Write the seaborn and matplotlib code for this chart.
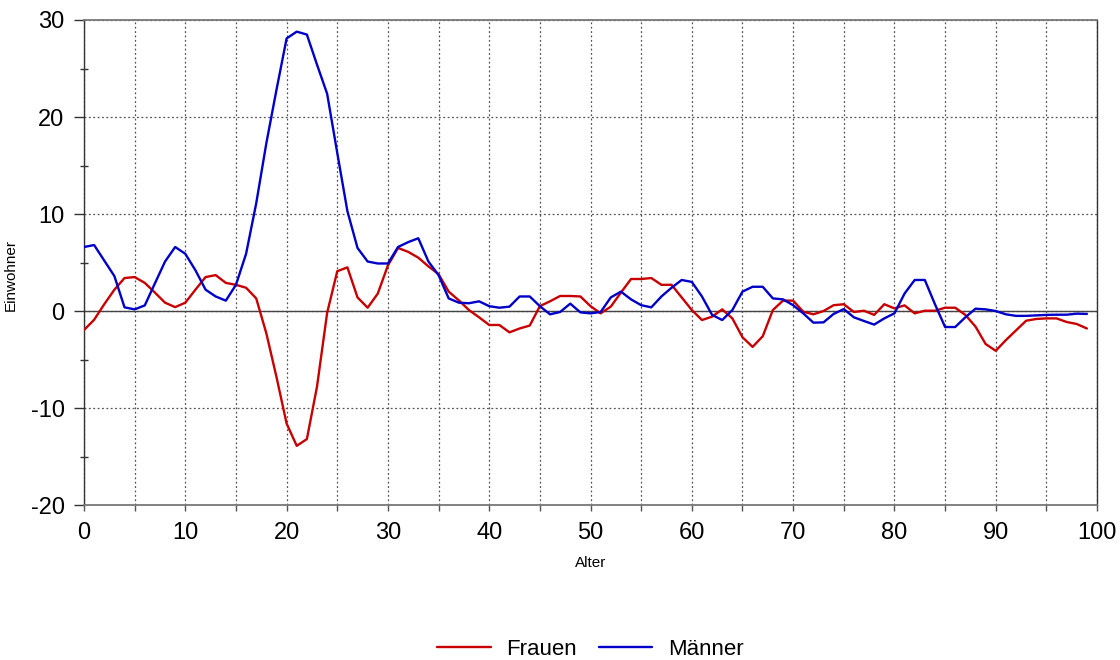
import numpy as np
import pandas as pd
import matplotlib
matplotlib.use("Agg")
import matplotlib.pyplot as plt
from matplotlib.ticker import MultipleLocator
import seaborn as sns

# Ages 0..99
alter = list(range(100))

frauen = [
    -1.96, -0.9, 0.7, 2.2, 3.4, 3.5, 2.9, 1.9, 0.86, 0.4,
    0.86, 2.2, 3.5, 3.7, 2.9, 2.7, 2.4, 1.3, -2.3, -6.8,
    -11.6, -13.9, -13.2, -7.8, -0.2, 4.1, 4.5, 1.4, 0.34, 1.8,
    4.7, 6.5, 6.1, 5.5, 4.6, 3.8, 2.0, 1.1, 0.1, -0.65,
    -1.44, -1.44, -2.2, -1.8, -1.5, 0.5, 1.0, 1.55, 1.55, 1.5,
    0.5, -0.24, 0.45, 1.9, 3.3, 3.3, 3.4, 2.7, 2.7, 1.4,
    0.1, -0.93, -0.58, 0.17, -0.76, -2.7, -3.7, -2.6, 0.1, 1.07,
    1.07, -0.07, -0.34, 0.0, 0.6, 0.7, -0.1, 0.03, -0.4, 0.7,
    0.27, 0.58, -0.24, 0.03, 0.03, 0.34, 0.34, -0.4, -1.6, -3.4,
    -4.1, -3.0, -2.0, -1.0, -0.82, -0.76, -0.76, -1.13, -1.34, -1.8,
]

maenner = [
    6.6, 6.8, 5.2, 3.6, 0.38, 0.17, 0.58, 2.85, 5.1, 6.6,
    5.9, 4.2, 2.2, 1.5, 1.07, 2.7, 5.9, 11.1, 17.3, 22.8,
    28.1, 28.8, 28.5, 25.4, 22.4, 16.3, 10.3, 6.5, 5.1, 4.9,
    4.9, 6.6, 7.1, 7.5, 5.1, 3.7, 1.3, 0.86, 0.8, 1.0,
    0.5, 0.34, 0.45, 1.5, 1.5, 0.5, -0.34, -0.1, 0.76, -0.14,
    -0.24, -0.1, 1.4, 2.0, 1.2, 0.6, 0.38, 1.5, 2.4, 3.2,
    3.0, 1.5, -0.4, -0.93, 0.1, 2.0, 2.5, 2.5, 1.3, 1.2,
    0.6, -0.24, -1.2, -1.17, -0.3, 0.2, -0.65, -1.03, -1.4, -0.76,
    -0.24, 1.8, 3.2, 3.2, 0.7, -1.65, -1.65, -0.65, 0.24, 0.17,
    0.0, -0.34, -0.5, -0.5, -0.45, -0.4, -0.38, -0.38, -0.27, -0.3,
]

serien = ["Frauen", "Männer"]
farben = {"Frauen": "#C80000", "Männer": "#0000C8"}

df = pd.concat([
    pd.DataFrame({"Alter": alter, "Einwohner": frauen, "Geschlecht": "Frauen"}),
    pd.DataFrame({"Alter": alter, "Einwohner": maenner, "Geschlecht": "Männer"}),
], ignore_index=True)

sns.set_style("white")
plt.rcParams["font.family"] = ["Liberation Sans", "DejaVu Sans"]
plt.rcParams["axes.unicode_minus"] = False
plt.rcParams["text.color"] = "black"
plt.rcParams["axes.labelcolor"] = "black"
plt.rcParams["xtick.labelcolor"] = "black"
plt.rcParams["ytick.labelcolor"] = "black"

fig = plt.figure(figsize=(11.2, 6.6), dpi=100)
ax_rect = [0.075, 0.2348, 0.9045, 0.7349]
ax = fig.add_axes(ax_rect)

sns.lineplot(data=df, x="Alter", y="Einwohner", hue="Geschlecht",
             hue_order=serien, palette=farben, linewidth=1.7, ax=ax,
             legend=True, zorder=3)

ax.set_xlim(0, 100)
ax.set_ylim(-20, 30)
ax.xaxis.set_major_locator(MultipleLocator(10))
ax.xaxis.set_minor_locator(MultipleLocator(5))
ax.yaxis.set_major_locator(MultipleLocator(10))
ax.yaxis.set_minor_locator(MultipleLocator(5))

# dotted grid: vertical every 5 years, horizontal every 10
ax.grid(False)
ax.grid(which="major", axis="both", linestyle=(0, (1.5, 2)), color="#555555", linewidth=0.9)
ax.grid(which="minor", axis="x", linestyle=(0, (1.5, 2)), color="#555555", linewidth=0.9)
ax.axhline(0, color="#444444", linewidth=1.0, zorder=2)

for side in ["left", "right"]:
    ax.spines[side].set_color("#333333")
    ax.spines[side].set_linewidth(1.0)
for side in ["top", "bottom"]:
    ax.spines[side].set_color("#777777")
    ax.spines[side].set_linewidth(1.3)

ax.tick_params(axis="y", which="major", direction="out", length=7, width=1,
               color="#333333", labelsize=17, pad=7, left=True)
ax.tick_params(axis="y", which="minor", direction="inout", length=6, width=1,
               color="#333333", left=True)
ax.tick_params(axis="x", which="both", direction="out", length=4, width=1,
               color="#555555", labelsize=17, pad=8, bottom=True)

ax.set_xlabel("Alter", fontsize=11, labelpad=9)
ax.set_ylabel("Einwohner", fontsize=11)
ax.yaxis.set_label_coords(-0.065, 0.474)

handles, labels = ax.get_legend_handles_labels()
ax.get_legend().remove()
fig.legend(handles, labels, loc="lower center",
           bbox_to_anchor=(ax_rect[0] + ax_rect[2] / 2, -0.03),
           ncol=2, frameon=False, fontsize=16, handlelength=2.4,
           handletextpad=0.7, columnspacing=1.0)

fig.savefig("out.png", dpi=100)
